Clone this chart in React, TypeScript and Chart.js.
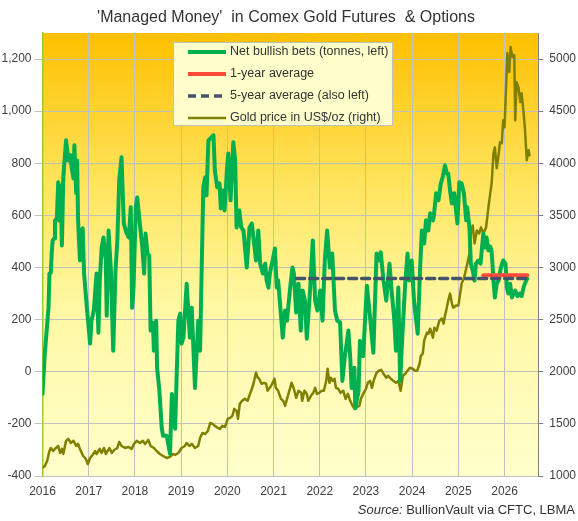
import React, { useEffect, useRef } from "react";
import { Chart, registerables } from "chart.js";

Chart.register(...registerables);

const TITLE = "'Managed Money'  in Comex Gold Futures  & Options";
const SOURCE_ITALIC = "Source:";
const SOURCE_REST = " BullionVault via CFTC, LBMA";

const LABEL_NET = "Net bullish bets (tonnes, left)";
const LABEL_AVG1 = "1-year average";
const LABEL_AVG5 = "5-year average (also left)";
const LABEL_GOLD = "Gold price in US$/oz (right)";

const X_MIN = 2016;
const X_MAX = 2026.73;
const LEFT_MIN = -400;
const LEFT_MAX = 1300;
const RIGHT_MIN = 1000;
const RIGHT_MAX = 5250;

const YEAR_TICKS = [2016, 2017, 2018, 2019, 2020, 2021, 2022, 2023, 2024, 2025, 2026];
const LEFT_TICKS = [-400, -200, 0, 200, 400, 600, 800, 1000, 1200];
const RIGHT_TICKS = [1000, 1500, 2000, 2500, 3000, 3500, 4000, 4500, 5000];

const netYears = [
  2016.00, 2016.02, 2016.05, 2016.13, 2016.15, 2016.18, 2016.20, 2016.22, 2016.25, 2016.27,
  2016.31, 2016.34, 2016.36, 2016.39, 2016.42, 2016.45, 2016.51, 2016.56, 2016.60, 2016.63,
  2016.67, 2016.69, 2016.73, 2016.75, 2016.77, 2016.81, 2016.85, 2016.87, 2016.90, 2016.96,
  2017.03, 2017.06, 2017.11, 2017.17, 2017.21, 2017.24, 2017.28, 2017.32, 2017.37, 2017.39,
  2017.43, 2017.48, 2017.53, 2017.58, 2017.62, 2017.66, 2017.71, 2017.76, 2017.82, 2017.87,
  2017.91, 2017.94, 2017.97, 2018.02, 2018.05, 2018.10, 2018.16, 2018.20, 2018.23, 2018.27,
  2018.31, 2018.34, 2018.39, 2018.41, 2018.46, 2018.48, 2018.53, 2018.58, 2018.61, 2018.69,
  2018.76, 2018.80, 2018.83, 2018.87, 2018.90, 2018.94, 2018.98, 2019.01, 2019.05, 2019.12,
  2019.19, 2019.23, 2019.30, 2019.37, 2019.41, 2019.48, 2019.52, 2019.55, 2019.59, 2019.66,
  2019.70, 2019.73, 2019.78, 2019.83, 2019.86, 2019.90, 2019.94, 2019.99, 2020.02, 2020.07,
  2020.13, 2020.17, 2020.20, 2020.26, 2020.30, 2020.35, 2020.42, 2020.48, 2020.53, 2020.58,
  2020.62, 2020.67, 2020.71, 2020.77, 2020.82, 2020.85, 2020.89, 2020.92, 2020.98, 2021.03,
  2021.07, 2021.10, 2021.14, 2021.20, 2021.25, 2021.29, 2021.36, 2021.41, 2021.44, 2021.49,
  2021.54, 2021.59, 2021.63, 2021.68, 2021.72, 2021.79, 2021.85, 2021.90, 2021.95, 2022.01,
  2022.06, 2022.11, 2022.16, 2022.22, 2022.27, 2022.33, 2022.38, 2022.44, 2022.49, 2022.54,
  2022.62, 2022.66, 2022.69, 2022.75, 2022.77, 2022.84, 2022.87, 2022.94, 2023.02, 2023.09,
  2023.16, 2023.23, 2023.27, 2023.32, 2023.38, 2023.44, 2023.51, 2023.56, 2023.61, 2023.65,
  2023.70, 2023.74, 2023.79, 2023.85, 2023.90, 2023.94, 2023.99, 2024.04, 2024.08, 2024.12,
  2024.17, 2024.21, 2024.26, 2024.30, 2024.35, 2024.39, 2024.45, 2024.47, 2024.52, 2024.57,
  2024.62, 2024.66, 2024.71, 2024.75, 2024.78, 2024.82, 2024.86, 2024.91, 2024.95, 2024.98,
  2025.02, 2025.07, 2025.12, 2025.17, 2025.19, 2025.24, 2025.27, 2025.31, 2025.35, 2025.38,
  2025.43, 2025.48, 2025.54, 2025.58, 2025.61, 2025.65, 2025.69, 2025.72, 2025.76, 2025.79,
  2025.83, 2025.87, 2025.92, 2025.97, 2026.02, 2026.05, 2026.08, 2026.12, 2026.16, 2026.23,
  2026.28, 2026.33, 2026.37, 2026.41, 2026.44, 2026.49,
];

const netTonnes = [
  -85, -20, 70, 246, 377, 380, 458, 504, 511, 580,
  588, 727, 580, 715, 485, 746, 888, 811, 831, 785,
  742, 869, 685, 811, 580, 427, 542, 550, 377, 246,
  108, 196, 235, 377, 150, 350, 477, 515, 427, 215,
  542, 388, 81, 388, 504, 735, 823, 569, 531, 515,
  631, 246, 323, 631, 669, 580, 477, 377, 531, 454,
  446, 158, 188, 81, 196, 15, -73, -215, -246, -246,
  -315, -85, -138, -219, -35, 196, 223, 108, 131, 338,
  131, 246, -62, 196, 81, 708, 746, 677, 888, 900,
  908, 773, 708, 723, 627, 696, 619, 773, 838, 658,
  881, 811, 554, 619, 554, 542, 400, 554, 569, 492,
  427, 542, 415, 377, 415, 350, 323, 377, 427, 473,
  323, 350, 262, 131, 235, 196, 323, 400, 377, 227,
  338, 158, 312, 273, 127, 312, 504, 273, 235, 312,
  196, 427, 542, 400, 454, 235, 196, 190, -35, 54,
  158, 54, -62, 15, -140, -73, 119, 60, 330, 208,
  73, 454, 427, 458, 350, 273, 415, 300, 208, 81,
  323, -35, 146, 338, 454, 350, 427, 273, 208, 146,
  388, 542, 492, 581, 542, 608, 581, 600, 685, 658,
  723, 746, 792, 761, 761, 696, 646, 685, 619, 569,
  727, 723, 685, 581, 631, 554, 415, 388, 350, 415,
  427, 415, 531, 477, 515, 465, 480, 465, 350, 285,
  338, 350, 400, 427, 415, 323, 300, 338, 285, 312,
  290, 300, 290, 323, 338, 358,
];

const goldYears = [
  2016.00, 2016.05, 2016.10, 2016.15, 2016.18, 2016.23, 2016.29, 2016.34, 2016.38, 2016.42,
  2016.45, 2016.51, 2016.56, 2016.61, 2016.67, 2016.73, 2016.77, 2016.81, 2016.88, 2016.94,
  2016.98, 2017.03, 2017.10, 2017.14, 2017.17, 2017.24, 2017.28, 2017.33, 2017.37, 2017.45,
  2017.50, 2017.55, 2017.62, 2017.66, 2017.71, 2017.79, 2017.86, 2017.93, 2017.98, 2018.04,
  2018.11, 2018.17, 2018.22, 2018.29, 2018.34, 2018.41, 2018.47, 2018.54, 2018.61, 2018.69,
  2018.76, 2018.82, 2018.87, 2018.94, 2019.01, 2019.08, 2019.12, 2019.18, 2019.23, 2019.30,
  2019.37, 2019.41, 2019.46, 2019.52, 2019.58, 2019.63, 2019.68, 2019.73, 2019.79, 2019.84,
  2019.89, 2019.95, 2020.01, 2020.06, 2020.11, 2020.15, 2020.20, 2020.23, 2020.27, 2020.32,
  2020.38, 2020.44, 2020.49, 2020.54, 2020.58, 2020.62, 2020.66, 2020.69, 2020.74, 2020.79,
  2020.84, 2020.87, 2020.92, 2020.97, 2021.02, 2021.05, 2021.10, 2021.16, 2021.21, 2021.25,
  2021.31, 2021.36, 2021.39, 2021.44, 2021.49, 2021.54, 2021.60, 2021.62, 2021.67, 2021.72,
  2021.75, 2021.81, 2021.86, 2021.90, 2021.94, 2021.99, 2022.04, 2022.09, 2022.14, 2022.17,
  2022.21, 2022.24, 2022.28, 2022.32, 2022.35, 2022.40, 2022.45, 2022.51, 2022.56, 2022.61,
  2022.66, 2022.71, 2022.76, 2022.81, 2022.86, 2022.89, 2022.94, 2023.00, 2023.04, 2023.09,
  2023.13, 2023.18, 2023.23, 2023.28, 2023.33, 2023.38, 2023.44, 2023.48, 2023.54, 2023.59,
  2023.65, 2023.70, 2023.75, 2023.80, 2023.85, 2023.90, 2023.95, 2024.01, 2024.06, 2024.11,
  2024.16, 2024.19, 2024.23, 2024.26, 2024.32, 2024.35, 2024.39, 2024.45, 2024.48, 2024.53,
  2024.59, 2024.64, 2024.68, 2024.71, 2024.75, 2024.78, 2024.82, 2024.86, 2024.89, 2024.95,
  2025.00, 2025.04, 2025.07, 2025.12, 2025.17, 2025.20, 2025.24, 2025.27, 2025.31, 2025.35,
  2025.40, 2025.45, 2025.49, 2025.54, 2025.60, 2025.65, 2025.69, 2025.72, 2025.76, 2025.79,
  2025.83, 2025.87, 2025.90, 2025.94, 2025.97, 2026.00, 2026.03, 2026.06, 2026.10, 2026.13,
  2026.17, 2026.21, 2026.23, 2026.26, 2026.30, 2026.34, 2026.37, 2026.41, 2026.44, 2026.48,
  2026.52, 2026.54,
];

const goldPrice = [
  1080, 1096, 1144, 1240, 1269, 1240, 1269, 1288, 1221, 1260,
  1211, 1337, 1356, 1317, 1337, 1288, 1308, 1260, 1192, 1163,
  1115, 1173, 1211, 1240, 1211, 1260, 1221, 1269, 1211, 1269,
  1221, 1250, 1269, 1327, 1288, 1269, 1279, 1260, 1308, 1337,
  1317, 1337, 1308, 1346, 1288, 1269, 1240, 1211, 1192, 1173,
  1183, 1211, 1202, 1221, 1269, 1288, 1317, 1288, 1308, 1269,
  1288, 1365, 1413, 1404, 1433, 1510, 1500, 1481, 1462, 1452,
  1481, 1471, 1548, 1558, 1577, 1644, 1625, 1548, 1692, 1721,
  1740, 1721, 1788, 1846, 1913, 1990, 1942, 1933, 1885, 1894,
  1885, 1817, 1846, 1885, 1933, 1846, 1817, 1740, 1721, 1673,
  1769, 1846, 1894, 1837, 1750, 1817, 1798, 1721, 1817, 1788,
  1721, 1769, 1798, 1846, 1788, 1798, 1817, 1817, 1913, 2029,
  1894, 1942, 1913, 1933, 1846, 1837, 1798, 1817, 1740, 1788,
  1721, 1673, 1644, 1663, 1673, 1740, 1788, 1837, 1894, 1913,
  1846, 1933, 1990, 2010, 2019, 1981, 1942, 1962, 1933, 1913,
  1894, 1913, 1817, 1962, 1981, 2010, 2038, 2029, 2010, 2010,
  2077, 2154, 2173, 2298, 2375, 2365, 2413, 2327, 2423, 2394,
  2490, 2510, 2462, 2538, 2615, 2683, 2750, 2654, 2615, 2635,
  2635, 2750, 2846, 2894, 2990, 3048, 3135, 3327, 3404, 3231,
  3356, 3327, 3385, 3327, 3385, 3577, 3712, 3808, 4096, 4154,
  3952, 4077, 4202, 4192, 4413, 4346, 4702, 5058, 4875, 5115,
  5019, 5038, 4413, 4779, 4731, 4587, 4673, 4490, 4337, 4029,
  4125, 4077,
];

const avg1Years = [2025.54, 2026.49];
const avg1Values = [370, 370];
const avg5Years = [2021.50, 2026.49];
const avg5Values = [358, 358];

const FONT = "Arial, 'Liberation Sans', Helvetica, sans-serif";

function pairs(xs: number[], ys: number[]) {
  return xs.map((x, i) => ({ x, y: ys[i] }));
}

function fixedTicks(values: number[]) {
  return (s: any) => {
    s.ticks = values.map((v) => ({ value: v }));
  };
}

export default function App() {
  const ref = useRef<HTMLCanvasElement | null>(null);

  useEffect(() => {
    const canvas = ref.current;
    if (!canvas) return;

    const bgPlugin = {
      id: "bgPlugin",
      beforeDraw(chart: any) {
        const { ctx, chartArea: a } = chart;
        ctx.save();
        ctx.fillStyle = "#ffffff";
        ctx.fillRect(0, 0, chart.width, chart.height);
        const g = ctx.createLinearGradient(0, a.top, 0, a.bottom);
        g.addColorStop(0, "#FFC000");
        g.addColorStop(0.33, "#FFE35A");
        g.addColorStop(0.6, "#FFF7A0");
        g.addColorStop(1, "#FFFFCC");
        ctx.fillStyle = g;
        ctx.fillRect(a.left, a.top, a.right - a.left, a.bottom - a.top);
        ctx.fillStyle = "#333333";
        ctx.font = `16px ${FONT}`;
        ctx.textAlign = "center";
        ctx.textBaseline = "middle";
        ctx.fillText(TITLE, 286, 18);
        ctx.restore();
      },
    };

    const overlayPlugin = {
      id: "overlayPlugin",
      afterDraw(chart: any) {
        const { ctx } = chart;
        ctx.save();
        const bx = 173, by = 42, bw = 220, bh = 84;
        ctx.fillStyle = "#FFFFCC";
        ctx.fillRect(bx, by, bw, bh);
        ctx.strokeStyle = "#BFBFBF";
        ctx.lineWidth = 1;
        ctx.strokeRect(bx + 0.5, by + 0.5, bw - 1, bh - 1);
        const rowY = [52, 74, 96, 118];
        ctx.font = `12.5px ${FONT}`;
        ctx.textBaseline = "middle";
        ctx.textAlign = "left";
        chart.data.datasets.forEach((ds: any, r: number) => {
          const y = rowY[r];
          ctx.beginPath();
          ctx.strokeStyle = ds.borderColor;
          ctx.lineWidth = ds.borderWidth;
          ctx.setLineDash(ds.borderDash || []);
          ctx.lineCap = "butt";
          ctx.moveTo(188, y);
          ctx.lineTo(226, y);
          ctx.stroke();
          ctx.setLineDash([]);
          ctx.fillStyle = "#333333";
          ctx.fillText(ds.label, 230, y);
        });
        ctx.textAlign = "left";
        ctx.textBaseline = "middle";
        ctx.font = `13px ${FONT}`;
        const restW = ctx.measureText(SOURCE_REST).width;
        ctx.font = `italic 13px ${FONT}`;
        const itW = ctx.measureText(SOURCE_ITALIC).width;
        const right = 575;
        const startX = right - restW - itW;
        ctx.fillStyle = "#333333";
        ctx.fillText(SOURCE_ITALIC, startX, 510);
        ctx.font = `13px ${FONT}`;
        ctx.fillText(SOURCE_REST, startX + itW, 510);
        ctx.restore();
      },
    };

    const tickFont = { family: FONT, size: 12 };

    const chart = new Chart(canvas, {
      type: "line",
      data: {
        datasets: [
          {
            label: LABEL_NET,
            data: pairs(netYears, netTonnes),
            yAxisID: "y",
            borderColor: "#00B050",
            borderWidth: 4,
            order: 2,
          },
          {
            label: LABEL_AVG1,
            data: pairs(avg1Years, avg1Values),
            yAxisID: "y",
            borderColor: "#FF4B3A",
            borderWidth: 4,
            order: 1,
          },
          {
            label: LABEL_AVG5,
            data: pairs(avg5Years, avg5Values),
            yAxisID: "y",
            borderColor: "#44546A",
            borderWidth: 3.5,
            borderDash: [8, 5],
            order: 0,
          },
          {
            label: LABEL_GOLD,
            data: pairs(goldYears, goldPrice),
            yAxisID: "y2",
            borderColor: "#808000",
            borderWidth: 2.5,
            order: 3,
          },
        ] as any,
      },
      options: {
        responsive: false,
        animation: false,
        devicePixelRatio: 1,
        layout: { padding: { top: 33, left: 0, right: 0, bottom: 0 } },
        plugins: {
          legend: { display: false },
          title: { display: false },
          tooltip: { enabled: false },
        },
        elements: {
          point: { radius: 0, hoverRadius: 0 },
          line: { tension: 0, borderJoinStyle: "round", borderCapStyle: "round", fill: false },
        },
        scales: {
          x: {
            type: "linear",
            min: X_MIN,
            max: X_MAX,
            afterBuildTicks: fixedTicks(YEAR_TICKS),
            afterFit: (s: any) => {
              s.height = 45;
            },
            ticks: {
              autoSkip: false,
              maxRotation: 0,
              padding: 8,
              color: "#404040",
              font: tickFont,
              callback: (v: any) => String(v),
            },
            grid: { color: "#C0C0C0", drawTicks: false, lineWidth: 1 },
            border: { color: "#C0C0C0" },
          },
          y: {
            type: "linear",
            position: "left",
            min: LEFT_MIN,
            max: LEFT_MAX,
            afterBuildTicks: fixedTicks(LEFT_TICKS),
            afterFit: (s: any) => {
              s.width = 42.5;
            },
            ticks: {
              autoSkip: false,
              padding: 3,
              color: "#404040",
              font: tickFont,
              callback: (v: any) => Number(v).toLocaleString("en-US"),
            },
            grid: { color: "#C0C0C0", tickLength: 8, lineWidth: 1 },
            border: { color: "#99CC33", width: 1.5 },
          },
          y2: {
            type: "linear",
            position: "right",
            min: RIGHT_MIN,
            max: RIGHT_MAX,
            afterBuildTicks: fixedTicks(RIGHT_TICKS),
            afterFit: (s: any) => {
              s.width = 39.7;
            },
            ticks: {
              autoSkip: false,
              padding: 6,
              color: "#404040",
              font: tickFont,
              callback: (v: any) => String(v),
            },
            grid: { drawOnChartArea: false, tickLength: 5, color: "#808080" },
            border: { color: "#808080" },
          },
        },
      } as any,
      plugins: [bgPlugin, overlayPlugin],
    });

    return () => {
      chart.destroy();
    };
  }, []);

  return (
    <div style={{ position: "absolute", left: 0, top: 0, width: 578, height: 521, background: "#fff" }}>
      <canvas ref={ref} width={578} height={521} style={{ display: "block", width: 578, height: 521 }} />
    </div>
  );
}
